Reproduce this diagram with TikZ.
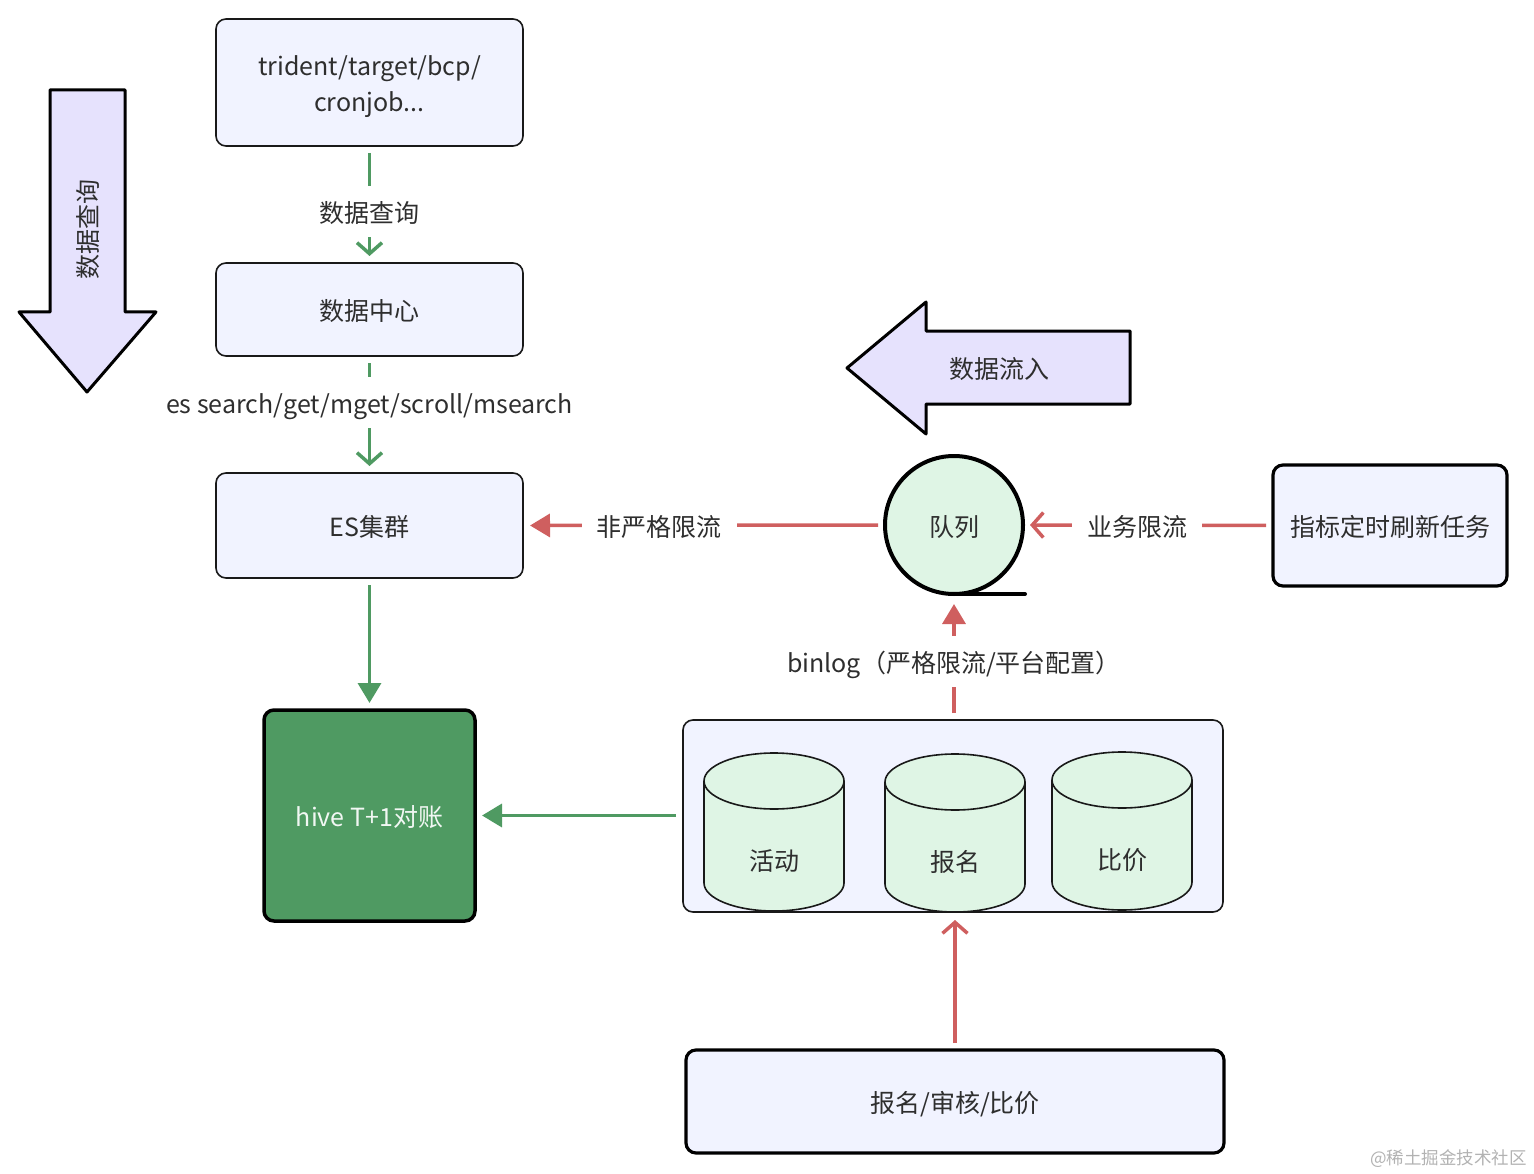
\documentclass[tikz,border=0pt]{standalone}
\usepackage{fontspec}
\setmainfont{Noto Sans CJK SC}
\usetikzlibrary{arrows.meta}
\definecolor{boxfill}{HTML}{F1F3FF}
\definecolor{dbfill}{HTML}{DFF5E5}
\definecolor{bigfill}{HTML}{E6E2FD}
\definecolor{flowgreen}{HTML}{4F9A62}
\definecolor{flowred}{HTML}{CF5F5F}
\definecolor{inktext}{HTML}{2E2E2E}
\tikzstyle{txt} = [font=\fontsize{25}{36}\selectfont,text=inktext,align=center,outer sep=0pt,text height=24pt,text depth=2pt]
\tikzstyle{box} = [txt,draw=black!90,line width=1.6pt,fill=boxfill,rounded corners=10pt,minimum width=307pt]
\tikzstyle{heavybox} = [box,draw=black,line width=3.2pt]
\tikzstyle{db} = [draw=black!90,line width=1.6pt,fill=dbfill]
\tikzstyle{lbl} = [txt,fill=white,inner xsep=15pt,inner ysep=0pt,minimum height=51pt]
\tikzstyle{open} = [line width=3.5pt,shorten >=7pt,shorten <=7pt,-{Straight Barb[length=11pt,width=25pt,line width=3.5pt]}]
\tikzstyle{solid} = [line width=3.5pt,shorten >=7pt,shorten <=7pt,-{Triangle[length=20pt,width=23pt]}]
\tikzstyle{bigarrow} = [draw=black,line width=3pt,fill=bigfill,line join=round]
\newcommand{\dbcan}[4]{
    \draw[db] (#2-70,#3+28) arc[start angle=180,end angle=0,x radius=70pt,y radius=28pt] -- (#2+70,#3+130)
      arc[start angle=0,end angle=-180,x radius=70pt,y radius=28pt] -- cycle;
    \draw[db,fill=none] (#2-70,#3+28) arc[start angle=180,end angle=360,x radius=70pt,y radius=28pt];
    \node[txt] (#1) at (#2,#3+106) {#4};
}
\begin{document}
\begin{tikzpicture}[x=1pt,y=-1pt]
    \useasboundingbox (0,0) rectangle (1534,1174);
    \draw[bigarrow] (50,90) -- (125,90) -- (125,312) -- (156,312) -- (87,392) -- (19,312) -- (50,312) -- cycle;
    \node[txt,rotate=90] (querytext) at (86,230) {数据查询};
    \draw[bigarrow] (1130,331) -- (926,331) -- (926,302) -- (847,368) -- (926,434) -- (926,404) -- (1130,404) -- cycle;
    \node[txt] (inflowtext) at (999,367) {数据流入};

    \node[box,minimum height=127pt,text height=60pt] (trident) at (369.5,82.5) {trident/target/bcp/\\cronjob...};
    \node[box,minimum height=93pt] (center) at (369.5,309.5) {数据中心};
    \node[box,minimum height=105pt] (es) at (369.5,525.5) {ES集群};
    \node[heavybox,line width=3.5pt,fill=flowgreen,text=white!92!flowgreen,minimum width=211pt,minimum height=211pt] (hive) at (369.5,815.5) {hive T+1对账};

    \node[box,minimum width=540pt,minimum height=192pt] (group) at (953,816) {};
    \dbcan{activity}{774}{753}{活动}
    \dbcan{signup}{955}{754}{报名}
    \dbcan{compare}{1122}{752}{比价}

    \draw[line width=4pt,line cap=round] (954,594) -- (1025,594);
    \node[txt,circle,draw=black,line width=4pt,fill=dbfill,minimum size=138pt,inner sep=0pt] (queue) at (954,525) {队列};

    \node[heavybox,minimum width=234pt,minimum height=121pt] (refresh) at (1390,525.5) {指标定时刷新任务};
    \node[heavybox,minimum width=538pt,minimum height=103pt] (review) at (955,1101.5) {报名/审核/比价};

    \draw[open,flowgreen] (trident.south) -- node[lbl,pos=.556] (lbla) {数据查询} (center.north);
    \draw[open,flowgreen] (center.south) -- node[lbl,pos=.40] (lblb) {es search/get/mget/scroll/msearch} (es.north);
    \draw[solid,flowgreen] (es.south) -- (hive.north);
    \draw[solid,flowgreen] (group.west |- hive.east) -- (hive.east);
    \draw[solid,flowred] (queue.west) -- node[lbl,pos=.624] (lblc) {非严格限流} (es.east);
    \draw[open,flowred] (refresh.west) -- node[lbl,pos=.544] (lbld) {业务限流} (queue.east);
    \draw[solid,flowred,shorten >=10pt] (queue.south |- group.north) -- node[lbl,pos=.468] (lble) {binlog（严格限流/平台配置）} (queue.south);
    \draw[open,flowred,shorten >=8pt] (review.north) -- (review.north |- group.south);

    \node[txt,font=\fontsize{17.5}{20}\selectfont,text=black!30,text height=16pt,text depth=1pt,anchor=east] (mark) at (1530,1157) {@稀土掘金技术社区};
\end{tikzpicture}
\end{document}
